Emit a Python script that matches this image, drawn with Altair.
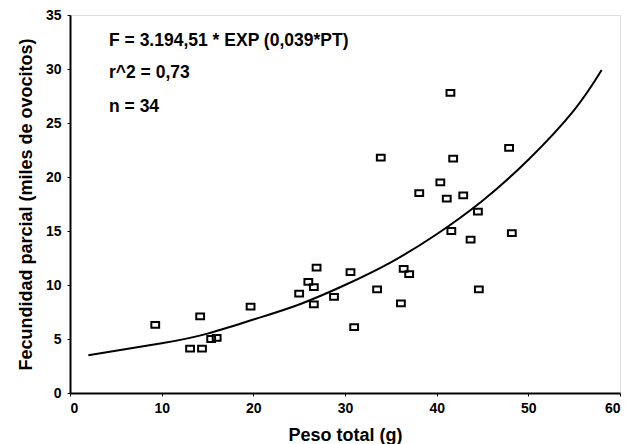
import altair as alt
import pandas as pd

# Scatter points
peso = [9.3, 13.1, 14.4, 14.2, 15.4, 16.0, 19.7, 25.0, 26.0, 26.6, 26.6, 26.9,
        28.8, 30.6, 31.0, 33.5, 33.9, 36.1, 36.4, 37.0, 38.1, 40.4, 41.1, 41.5,
        41.8, 41.6, 42.9, 43.7, 44.5, 44.6, 47.9, 48.2]
fecundidad = [6.3, 4.1, 4.1, 7.1, 5.0, 5.1, 8.0, 9.2, 10.3, 9.8, 8.2, 11.6,
              8.9, 11.2, 6.1, 9.6, 21.8, 8.3, 11.5, 11.0, 18.5, 19.5, 18.0, 27.8,
              21.7, 15.0, 18.3, 14.2, 16.8, 9.6, 22.7, 14.8]

# Fitted curve, points
curve_x = [2, 10, 15, 20, 25, 30, 35, 40, 45, 50, 55, 58]
curve_y = [3.5, 4.6, 5.5, 6.8, 8.2, 10.0, 12.1, 14.7, 17.8, 21.6, 26.2, 29.9]

x_ticks = [0, 10, 20, 30, 40, 50, 60]
y_ticks = [0, 5, 10, 15, 20, 25, 30, 35]

ann_lines = ["F = 3.194,51 * EXP (0,039*PT)", "r^2 = 0,73", "n = 34"]

FONT = "Liberation Sans"

pts = pd.DataFrame({"x": peso, "y": fecundidad})
crv = pd.DataFrame({"x": curve_x, "y": curve_y})

xs = alt.Scale(domain=[0, 60], nice=False, zero=False)
ys = alt.Scale(domain=[0, 35], nice=False, zero=False)

x_axis = alt.Axis(values=x_ticks, title="Peso total (g)", grid=False,
                  domainColor="black", domainWidth=2, tickColor="black",
                  tickSize=3, labelPadding=5, labelFont=FONT, labelFontSize=14,
                  labelFontWeight="bold", labelColor="black",
                  titleFont=FONT, titleFontSize=18, titleFontWeight="bold",
                  titleColor="black", titleX=275, titleY=47,
                  titleBaseline="alphabetic", titleAlign="center")
y_axis = alt.Axis(values=y_ticks, title="Fecundidad parcial (miles de ovocitos)",
                  grid=False, domainColor="black", domainWidth=2,
                  tickColor="black", tickSize=3, labelPadding=6, labelFont=FONT,
                  labelFontSize=14, labelFontWeight="bold", labelColor="black",
                  titleFont=FONT, titleFontSize=18, titleFontWeight="bold",
                  titleColor="black", titleX=-39, titleY=189, titleAngle=270,
                  titleBaseline="alphabetic", titleAlign="center")

rect_shape = "M-1.15,-0.85L1.15,-0.85L1.15,0.85L-1.15,0.85Z"

points = alt.Chart(pts).mark_point(
    shape=rect_shape, filled=False, color="black", strokeWidth=2, size=46, opacity=1
).encode(
    x=alt.X("x:Q", scale=xs, axis=x_axis),
    y=alt.Y("y:Q", scale=ys, axis=y_axis),
)

line = alt.Chart(crv).mark_line(color="black", strokeWidth=2, interpolate="natural").encode(
    x=alt.X("x:Q", scale=xs),
    y=alt.Y("y:Q", scale=ys),
)

ann_y = [31, 63, 97]
texts = []
for t, yy in zip(ann_lines, ann_y):
    texts.append(
        alt.Chart(pd.DataFrame({"t": [t]})).mark_text(
            align="left", baseline="alphabetic", font=FONT, fontSize=17.5,
            fontWeight="bold", color="black"
        ).encode(text="t:N", x=alt.value(39), y=alt.value(yy))
    )

chart = alt.layer(line, points, *texts).properties(
    width=550, height=378,
    autosize=alt.AutoSizeParams(type="none"),
    padding={"left": 70, "top": 15, "right": 12, "bottom": 51},
).configure_view(stroke="black", strokeWidth=2).configure(background="white")

chart.save("out.html", embed_options={"renderer": "svg", "actions": False})
